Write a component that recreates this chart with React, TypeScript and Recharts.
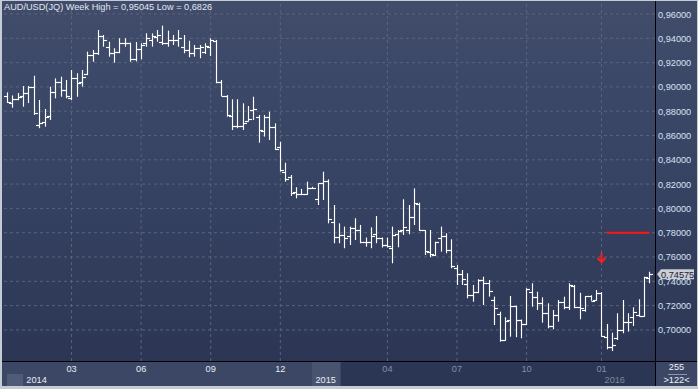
import { ComposedChart, Bar, XAxis, YAxis, ReferenceLine, ReferenceDot } from 'recharts';

// weekly AUD/USD bars, Dec 2013 .. Feb 2016
const opens = [
  0.8922, 0.8866, 0.8900, 0.8925, 0.8947, 0.9000, 0.8686, 0.8707, 0.8761, 0.8960,
  0.9043, 0.8975, 0.8910, 0.9073, 0.9043, 0.9110, 0.9260, 0.9277, 0.9420, 0.9331,
  0.9277, 0.9290, 0.9360, 0.9360, 0.9230, 0.9310, 0.9359, 0.9386, 0.9413, 0.9372,
  0.9359, 0.9390, 0.9390, 0.9330, 0.9300, 0.9280, 0.9320, 0.9290, 0.9331, 0.9380,
  0.9043, 0.8925, 0.8760, 0.8678, 0.8678, 0.8720, 0.8810, 0.8755, 0.8640, 0.8755,
  0.8667, 0.8508, 0.8302, 0.8256, 0.8138, 0.8120, 0.8120, 0.8166, 0.8077, 0.8205,
  0.8228, 0.7890, 0.7767, 0.7780, 0.7770, 0.7836, 0.7820, 0.7720, 0.7727, 0.7789,
  0.7754, 0.7700, 0.7677, 0.7790, 0.7826, 0.7826, 0.7927, 0.8040, 0.7820, 0.7641,
  0.7620, 0.7760, 0.7770, 0.7660, 0.7510, 0.7460, 0.7378, 0.7290, 0.7310, 0.7410,
  0.7390, 0.7250, 0.7130, 0.6920, 0.7080, 0.7197, 0.7082, 0.7046, 0.7314, 0.7268,
  0.7219, 0.7137, 0.7032, 0.7123, 0.7232, 0.7191, 0.7360, 0.7191, 0.7164, 0.7279,
  0.7246, 0.7306, 0.6944, 0.6862, 0.6930, 0.7000, 0.7068, 0.7104, 0.7120, 0.7115,
  0.7425,
];
const highs = [
  0.8955, 0.8930, 0.8950, 0.9007, 0.9007, 0.9092, 0.8892, 0.8818, 0.9002, 0.9070,
  0.9084, 0.9057, 0.9139, 0.9112, 0.9139, 0.9290, 0.9304, 0.9468, 0.9427, 0.9372,
  0.9318, 0.9400, 0.9400, 0.9365, 0.9370, 0.9359, 0.9441, 0.9441, 0.9468, 0.95045,
  0.9463, 0.9427, 0.9468, 0.9427, 0.9380, 0.9345, 0.9345, 0.9359, 0.9400, 0.9386,
  0.9057, 0.8933, 0.8898, 0.8898, 0.8865, 0.8843, 0.8919, 0.8769, 0.8769, 0.8796,
  0.8700, 0.8549, 0.8376, 0.8275, 0.8174, 0.8160, 0.8220, 0.8178, 0.8207, 0.8302,
  0.8239, 0.8028, 0.7877, 0.7850, 0.7850, 0.7919, 0.7864, 0.7760, 0.7844, 0.7937,
  0.7760, 0.7760, 0.7850, 0.7822, 0.8075, 0.8028, 0.8165, 0.8047, 0.7822, 0.7822,
  0.7726, 0.7850, 0.7795, 0.7746, 0.7534, 0.7493, 0.7466, 0.7370, 0.7417, 0.7438,
  0.7411, 0.7274, 0.7150, 0.7104, 0.7279, 0.7200, 0.7085, 0.7343, 0.7384, 0.7314,
  0.7268, 0.7219, 0.7164, 0.7246, 0.7273, 0.7384, 0.7370, 0.7306, 0.7279, 0.7285,
  0.7328, 0.7310, 0.7049, 0.6977, 0.7137, 0.7246, 0.7137, 0.7186, 0.7252, 0.7438,
  0.7479,
];
const lows = [
  0.8868, 0.8829, 0.8890, 0.8837, 0.8867, 0.8769, 0.8660, 0.8673, 0.8728, 0.8906,
  0.8919, 0.8906, 0.8892, 0.8919, 0.9002, 0.9098, 0.9207, 0.9263, 0.9331, 0.9249,
  0.9200, 0.9277, 0.9331, 0.9207, 0.9210, 0.9227, 0.9331, 0.9331, 0.9372, 0.9345,
  0.9331, 0.9345, 0.9331, 0.9277, 0.9244, 0.9249, 0.9236, 0.9271, 0.9254, 0.9030,
  0.8925, 0.8755, 0.8645, 0.8660, 0.8645, 0.8714, 0.8728, 0.8541, 0.8591, 0.8563,
  0.8481, 0.8302, 0.8220, 0.8102, 0.8083, 0.8110, 0.8112, 0.8160, 0.8028, 0.8069,
  0.7877, 0.7713, 0.7713, 0.7672, 0.7699, 0.7740, 0.7713, 0.7685, 0.7672, 0.7713,
  0.7678, 0.7678, 0.7548, 0.7680, 0.7781, 0.7787, 0.7863, 0.7816, 0.7616, 0.7598,
  0.7608, 0.7644, 0.7630, 0.7507, 0.7370, 0.7370, 0.7260, 0.7232, 0.7302, 0.7205,
  0.7274, 0.7040, 0.6903, 0.6911, 0.6944, 0.6940, 0.6931, 0.7040, 0.7191, 0.7164,
  0.7060, 0.7013, 0.7005, 0.7068, 0.7170, 0.7164, 0.7178, 0.7087, 0.7150, 0.7240,
  0.7240, 0.6944, 0.6840, 0.6826, 0.6917, 0.6972, 0.6986, 0.7032, 0.7109, 0.7109,
  0.7384,
];
const closes = [
  0.8876, 0.8898, 0.8915, 0.8948, 0.9002, 0.8785, 0.8700, 0.8755, 0.8961, 0.9040,
  0.8975, 0.8925, 0.9073, 0.9030, 0.9079, 0.9260, 0.9277, 0.9420, 0.9386, 0.9277,
  0.9290, 0.9360, 0.9360, 0.9227, 0.9310, 0.9345, 0.9400, 0.9420, 0.9430, 0.9359,
  0.9390, 0.9390, 0.9400, 0.9300, 0.9277, 0.9320, 0.9330, 0.9335, 0.9386, 0.9043,
  0.8925, 0.8765, 0.8678, 0.8678, 0.8700, 0.8735, 0.8815, 0.8645, 0.8755, 0.8667,
  0.8490, 0.8316, 0.8239, 0.8130, 0.8120, 0.8118, 0.8166, 0.8170, 0.8205, 0.8228,
  0.7913, 0.7767, 0.7780, 0.7760, 0.7840, 0.7820, 0.7720, 0.7727, 0.7773, 0.7754,
  0.7700, 0.7690, 0.7781, 0.7810, 0.7850, 0.7927, 0.8042, 0.7820, 0.7650, 0.7625,
  0.7726, 0.7770, 0.7658, 0.7530, 0.7460, 0.7420, 0.7290, 0.7310, 0.7410, 0.7390,
  0.7323, 0.7178, 0.6920, 0.7076, 0.7197, 0.7082, 0.7045, 0.7335, 0.7268, 0.7219,
  0.7137, 0.7032, 0.7123, 0.7232, 0.7191, 0.7370, 0.7186, 0.7178, 0.7279, 0.7240,
  0.7306, 0.6950, 0.6862, 0.6875, 0.7000, 0.7068, 0.7068, 0.7150, 0.7115, 0.7433,
  0.74575,
];

const priceTicks = [0.7, 0.72, 0.74, 0.76, 0.78, 0.8, 0.82, 0.84, 0.86, 0.88, 0.9, 0.92, 0.94, 0.96];
const monthTickIdx = [12, 25, 38, 51, 71, 84, 97, 111];
const monthLabels = ['03', '06', '09', '12', '04', '07', '10', '01'];
const yearTickIdx = [3, 57, 111];
const yearLabels = ['2014', '2015', '2016'];

const lastPrice = 0.74575;
const alertLevel = 0.78;
const alertFrom = 112;
const alertTo = 120;
const arrowIdx = 111;
const arrowLevel = 0.7592;

const data = opens.map((o, i) => ({
  i,
  o,
  h: highs[i],
  l: lows[i],
  c: closes[i],
  range: [lows[i], highs[i]],
}));

const allTicks = Array.from(new Set([...monthTickIdx, ...yearTickIdx])).sort((a, b) => a - b);

const FONT = "'Liberation Sans', Arial, sans-serif";
const GRID = '#58647f';
const X_DOMAIN: [number, number] = [-0.99, 120.99];
const Y_DOMAIN: [number, number] = [0.6744, 0.9707];
const MARGIN = { top: 1, right: 1, bottom: 3, left: 2 };
const fmt = (v: number) => v.toFixed(5).replace('.', ',');

function OhlcShape(props: any) {
  const { x, y, width, height, payload } = props;
  if (x == null || payload == null) return null;
  const cx = Math.round(x + width / 2) + 0.5;
  const top = Math.min(y, y + height);
  const bot = Math.max(y, y + height);
  const span = payload.h - payload.l || 1;
  const oy = Math.round(top + ((payload.h - payload.o) / span) * (bot - top)) + 0.5;
  const cy = Math.round(top + ((payload.h - payload.c) / span) * (bot - top)) + 0.5;
  return (
    <g stroke="#ffffff" strokeWidth={1.15}>
      <line x1={cx} x2={cx} y1={top} y2={bot} />
      <line x1={cx - 3.5} x2={cx} y1={oy} y2={oy} />
      <line x1={cx} x2={cx + 3.5} y1={cy} y2={cy} />
    </g>
  );
}

function PriceTick(props: any) {
  const { x, y, payload } = props;
  return (
    <text x={x} y={y + 3.5} fill="#d8e2f2" fontSize={9.2} fontFamily={FONT}>
      {fmt(payload.value)}
    </text>
  );
}

function TimeTick(props: any) {
  const { x, y, payload } = props;
  const mi = monthTickIdx.indexOf(payload.value);
  const yi = yearTickIdx.indexOf(payload.value);
  return (
    <g fontSize={9.2} fontFamily={FONT}>
      {mi >= 0 && (
        <text x={x} y={y + 11} textAnchor="middle" fill={mi < 4 ? '#e8edf5' : '#848ea4'}>
          {monthLabels[mi]}
        </text>
      )}
      {yi >= 0 && (
        <text x={x + 3} y={y + 22} fill={yi < 2 ? '#e8edf5' : '#7c869c'}>
          {yearLabels[yi]}
        </text>
      )}
    </g>
  );
}

function PriceTag(props: any) {
  const vb = props.viewBox || {};
  const x0 = vb.x + vb.width + 2;
  const y0 = vb.y;
  return (
    <g>
      <polygon
        points={`${x0},${y0} ${x0 + 4},${y0 - 5} ${x0 + 37},${y0 - 5} ${x0 + 37},${y0 + 5} ${x0 + 4},${y0 + 5}`}
        fill="#c9cdd4"
      />
      <text x={x0 + 4} y={y0 + 3.5} fill="#1c2030" fontSize={9.2} fontFamily={FONT}>
        {fmt(lastPrice)}
      </text>
    </g>
  );
}

function DownArrow(props: any) {
  const { cx, cy } = props;
  return (
    <g stroke="#ff1c1c" strokeWidth={2} fill="none">
      <line x1={cx} x2={cx} y1={cy - 5} y2={cy + 4} />
      <polyline points={`${cx - 4},${cy} ${cx},${cy + 4} ${cx + 4},${cy}`} />
    </g>
  );
}

// the grid lives in its own chart underneath, so the bars sit on top of it
function GridLayer() {
  return (
    <ComposedChart width={698} height={389} data={data} margin={MARGIN}>
      <XAxis type="number" dataKey="i" domain={X_DOMAIN} allowDataOverflow tick={false} axisLine={false} tickLine={false} height={25} />
      <YAxis orientation="right" type="number" domain={Y_DOMAIN} allowDataOverflow tick={false} axisLine={false} tickLine={false} width={42} />
      {priceTicks.map((p) => (
        <ReferenceLine key={'h' + p} y={p} stroke={GRID} strokeDasharray="3 3" />
      ))}
      {monthTickIdx.map((m) => (
        <ReferenceLine key={'v' + m} x={m} stroke={GRID} strokeDasharray="3 3" />
      ))}
    </ComposedChart>
  );
}

const gradient = 'linear-gradient(180deg, #404c6a 0%, #374363 50%, #2c3654 100%)';

export default function App() {
  return (
    <div style={{ position: 'absolute', left: 0, top: 0, width: 698, height: 389, background: '#c6ccd6', overflow: 'hidden' }}>
      <div style={{ position: 'absolute', left: 2, top: 1, width: 653, height: 360, background: gradient }} />
      <div style={{ position: 'absolute', left: 656, top: 1, width: 41, height: 360, background: gradient }} />
      <div style={{ position: 'absolute', left: 2, top: 362, width: 339, height: 24, background: '#3b4764' }} />
      <div style={{ position: 'absolute', left: 341, top: 362, width: 314, height: 24, background: '#2b3654' }} />
      <div style={{ position: 'absolute', left: 312, top: 362, width: 28, height: 24, background: '#48546f' }} />
      <div style={{ position: 'absolute', left: 7, top: 374, width: 16, height: 12, background: '#505c77' }} />
      <div style={{ position: 'absolute', left: 656, top: 362, width: 41, height: 24, background: '#3b4764' }} />
      <div style={{ position: 'absolute', left: 655, top: 1, width: 1, height: 385, background: '#000' }} />
      <div style={{ position: 'absolute', left: 2, top: 361, width: 695, height: 1, background: '#000' }} />

      <div style={{ position: 'absolute', left: 0, top: 0 }}>
        <GridLayer />
      </div>

      <div style={{ position: 'absolute', left: 0, top: 0 }}>
        <ComposedChart width={698} height={389} data={data} margin={MARGIN}>
          <XAxis
            type="number"
            dataKey="i"
            domain={X_DOMAIN}
            allowDataOverflow
            ticks={allTicks}
            interval={0}
            tick={<TimeTick />}
            tickLine={false}
            axisLine={false}
            tickSize={0}
            tickMargin={0}
            height={25}
          />
          <YAxis
            orientation="right"
            type="number"
            domain={Y_DOMAIN}
            allowDataOverflow
            ticks={priceTicks}
            interval={0}
            tick={<PriceTick />}
            tickLine={false}
            axisLine={false}
            tickSize={0}
            tickMargin={3}
            width={42}
          />
          <Bar dataKey="range" barSize={6} shape={<OhlcShape />} isAnimationActive={false} />
          <ReferenceLine
            segment={[{ x: alertFrom, y: alertLevel }, { x: alertTo, y: alertLevel }]}
            stroke="#ff1414"
            strokeWidth={2}
          />
          <ReferenceDot x={arrowIdx} y={arrowLevel} shape={<DownArrow />} />
          <ReferenceLine y={lastPrice} stroke="none" label={<PriceTag />} />
        </ComposedChart>
      </div>

      <div style={{ position: 'absolute', left: 4, top: 1, color: '#e2e8f2', fontSize: 9.2, fontFamily: FONT, whiteSpace: 'nowrap', lineHeight: '12px' }}>
        AUD/USD(JQ) Week High = 0,95045 Low = 0,6826
      </div>
      <div style={{ position: 'absolute', left: 656, top: 362, width: 41, textAlign: 'center', color: '#eef2f8', fontSize: 9.2, fontFamily: FONT, lineHeight: '11px' }}>
        255
      </div>
      <div style={{ position: 'absolute', left: 668, top: 374, width: 19, height: 1, background: '#8c96aa' }} />
      <div style={{ position: 'absolute', left: 656, top: 375, width: 41, textAlign: 'center', color: '#eef2f8', fontSize: 9.2, fontFamily: FONT, lineHeight: '11px' }}>
        {'>122<'}
      </div>
    </div>
  );
}
